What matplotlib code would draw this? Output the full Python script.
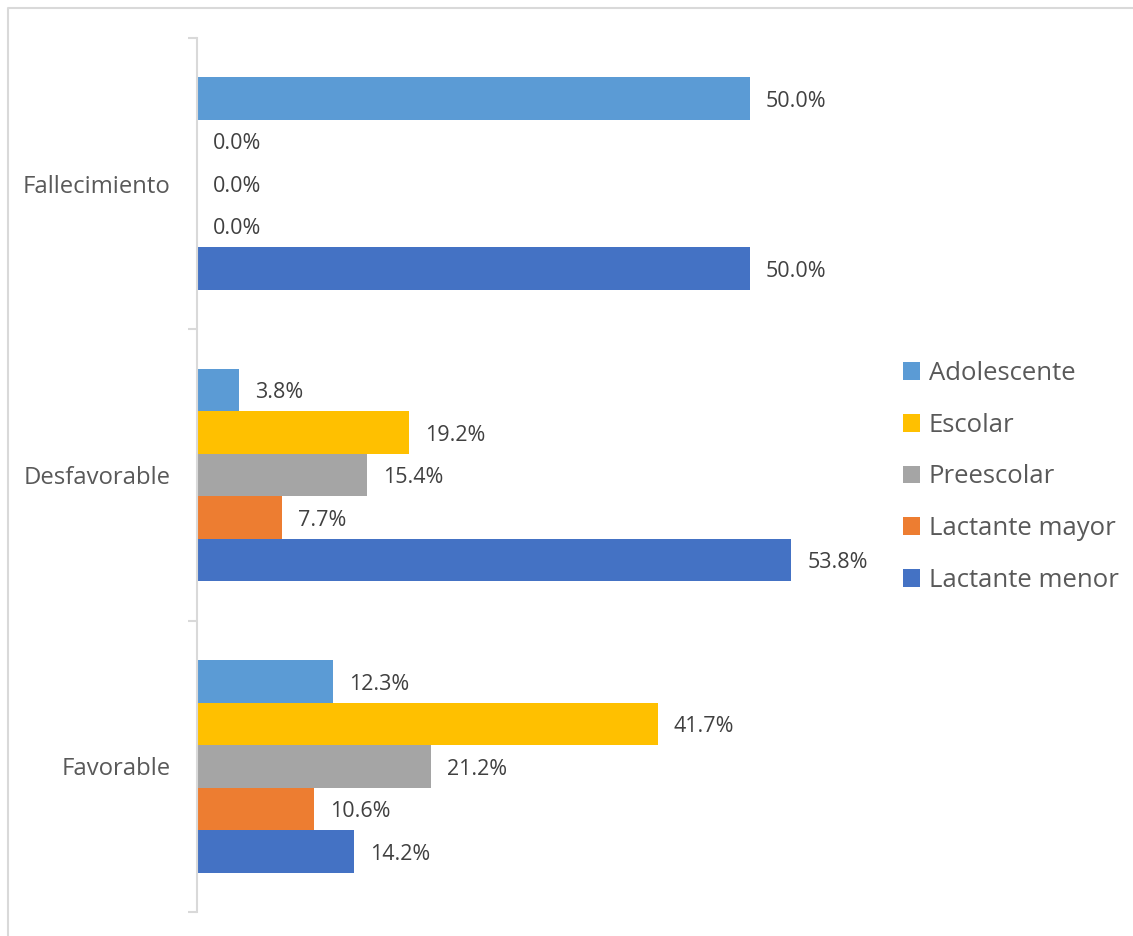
import matplotlib
matplotlib.use("Agg")
import matplotlib.pyplot as plt
import numpy as np
from matplotlib.patches import Patch
from matplotlib.lines import Line2D

plt.rcParams['font.family'] = ['Open Sans', 'DejaVu Sans']

categories = ["Favorable", "Desfavorable", "Fallecimiento"]
series_names = ["Lactante menor", "Lactante mayor", "Preescolar", "Escolar", "Adolescente"]
lactante_menor = [14.2, 53.8, 50.0]
lactante_mayor = [10.6, 7.7, 0.0]
preescolar = [21.2, 15.4, 0.0]
escolar = [41.7, 19.2, 0.0]
adolescente = [12.3, 3.8, 50.0]
series_values = [lactante_menor, lactante_mayor, preescolar, escolar, adolescente]
colors = ["#4472C4", "#ED7D31", "#A5A5A5", "#FFC000", "#5B9BD5"]

W, H, DPI = 1133, 936, 100
fig = plt.figure(figsize=(W / DPI, H / DPI), dpi=DPI)
ax = fig.add_axes([197 / W, (H - 912) / H, (860 - 197) / W, (912 - 38) / H])

y = np.arange(len(categories))
bar_h = 0.146
text_color = "#404040"

for i, (name, vals, col) in enumerate(zip(series_names, series_values, colors)):
    pos = y + (i - 2) * bar_h
    ax.barh(pos, vals, height=bar_h, color=col, label=name)
    for p, v in zip(pos, vals):
        ax.annotate(f"{v:.1f}%", xy=(v, p), xytext=(11.5, -2), textcoords="offset points",
                    va="center", ha="left", fontsize=15.5, color=text_color,
                    annotation_clip=False)

ax.set_xlim(0, 60)
ax.set_ylim(-0.5, 2.5)
ax.set_yticks(y)
ax.set_yticklabels(categories, fontsize=17.2, color="#595959")
ax.tick_params(axis="y", which="major", length=0, pad=19)
ax.set_yticks([-0.5, 0.5, 1.5, 2.5], minor=True)
ax.tick_params(axis="y", which="minor", length=6.5, width=1.5, color="#D9D9D9", direction="out")
ax.set_xticks([])
for s in ["top", "right", "bottom"]:
    ax.spines[s].set_visible(False)
ax.spines["left"].set_color("#D9D9D9")
ax.spines["left"].set_linewidth(1.5)

handles = [Patch(facecolor=c, edgecolor="none") for c in colors[::-1]]
fig.legend(handles, series_names[::-1], loc="center left", bbox_to_anchor=(903 / W, 1 - 477 / H),
           frameon=False, fontsize=18.5, labelcolor="#595959", handlelength=0.68, handleheight=0.68,
           handletextpad=0.32, labelspacing=1.04, borderpad=0, borderaxespad=0)

# outer chart border
bx, by = 8 / W, 1 - 8 / H
fig.add_artist(Line2D([bx, bx, 1.0], [0.0, by, by], transform=fig.transFigure,
                      color="#D9D9D9", linewidth=1.5))

fig.savefig("out.png", dpi=DPI)
